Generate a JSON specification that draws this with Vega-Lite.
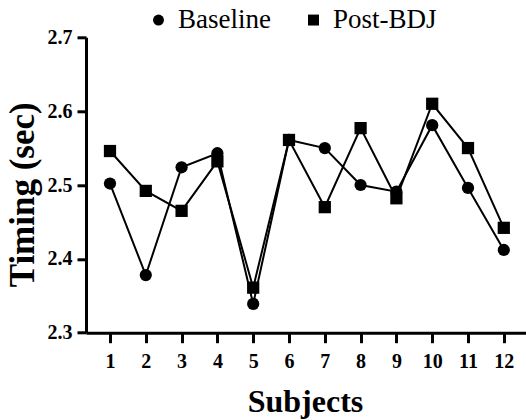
{
  "$schema": "https://vega.github.io/schema/vega-lite/v6.json",
  "autosize": {"type": "none"},
  "width": 440,
  "height": 295.4,
  "padding": {"left": 86, "top": 37.3, "right": 0, "bottom": 87.3},
  "background": "white",
  "config": {"view": {"stroke": null}, "font": "Liberation Serif"},
  "data": {
    "values": [
      {"subject": 1, "series": "Baseline", "timing": 2.502},
      {"subject": 2, "series": "Baseline", "timing": 2.378},
      {"subject": 3, "series": "Baseline", "timing": 2.524},
      {"subject": 4, "series": "Baseline", "timing": 2.543},
      {"subject": 5, "series": "Baseline", "timing": 2.339},
      {"subject": 6, "series": "Baseline", "timing": 2.561},
      {"subject": 7, "series": "Baseline", "timing": 2.550},
      {"subject": 8, "series": "Baseline", "timing": 2.500},
      {"subject": 9, "series": "Baseline", "timing": 2.491},
      {"subject": 10, "series": "Baseline", "timing": 2.581},
      {"subject": 11, "series": "Baseline", "timing": 2.496},
      {"subject": 12, "series": "Baseline", "timing": 2.412},
      {"subject": 1, "series": "Post-BDJ", "timing": 2.546},
      {"subject": 2, "series": "Post-BDJ", "timing": 2.492},
      {"subject": 3, "series": "Post-BDJ", "timing": 2.465},
      {"subject": 4, "series": "Post-BDJ", "timing": 2.532},
      {"subject": 5, "series": "Post-BDJ", "timing": 2.361},
      {"subject": 6, "series": "Post-BDJ", "timing": 2.561},
      {"subject": 7, "series": "Post-BDJ", "timing": 2.470},
      {"subject": 8, "series": "Post-BDJ", "timing": 2.577},
      {"subject": 9, "series": "Post-BDJ", "timing": 2.482},
      {"subject": 10, "series": "Post-BDJ", "timing": 2.610},
      {"subject": 11, "series": "Post-BDJ", "timing": 2.550},
      {"subject": 12, "series": "Post-BDJ", "timing": 2.442}
    ]
  },
  "encoding": {
    "x": {
      "field": "subject",
      "type": "quantitative",
      "scale": {"domain": [0.33, 12.62], "nice": false, "zero": false},
      "axis": {
        "values": [1, 2, 3, 4, 5, 6, 7, 8, 9, 10, 11, 12],
        "format": "d",
        "grid": false,
        "domainColor": "black",
        "domainWidth": 3,
        "tickColor": "black",
        "tickWidth": 3,
        "tickSize": 10,
        "labelFont": "Liberation Serif",
        "labelFontWeight": "bold",
        "labelFontSize": 20,
        "labelColor": "black",
        "labelPadding": 9,
        "labelFlush": false,
        "title": "Subjects",
        "titleFont": "Liberation Serif",
        "titleFontWeight": "bold",
        "titleFontSize": 32,
        "titleColor": "black",
        "titleX": 219,
        "titleY": 79,
        "titleBaseline": "alphabetic",
        "titleAlign": "center"
      }
    },
    "y": {
      "field": "timing",
      "type": "quantitative",
      "scale": {"domain": [2.3, 2.7], "nice": false, "zero": false},
      "axis": {
        "values": [2.3, 2.4, 2.5, 2.6, 2.7],
        "format": ".1f",
        "grid": false,
        "domainColor": "black",
        "domainWidth": 3,
        "tickColor": "black",
        "tickWidth": 3,
        "tickSize": 9,
        "labelFont": "Liberation Serif",
        "labelFontWeight": "bold",
        "labelFontSize": 20,
        "labelColor": "black",
        "labelPadding": 5,
        "labelFlush": false,
        "title": "Timing (sec)",
        "titleFont": "Liberation Serif",
        "titleFontWeight": "bold",
        "titleFontSize": 35,
        "titleColor": "black",
        "titleAngle": 270,
        "titleX": -53,
        "titleY": 157,
        "titleBaseline": "alphabetic",
        "titleAlign": "center"
      }
    }
  },
  "layer": [
    {
      "mark": {"type": "line", "color": "black", "strokeWidth": 2},
      "encoding": {"detail": {"field": "series", "type": "nominal"}}
    },
    {
      "mark": {"type": "point", "filled": true, "color": "black", "opacity": 1, "size": 150},
      "encoding": {
        "shape": {
          "field": "series",
          "type": "nominal",
          "scale": {"domain": ["Baseline", "Post-BDJ"], "range": ["circle", "square"]},
          "legend": {
            "title": null,
            "orient": "none",
            "direction": "horizontal",
            "legendX": 59,
            "legendY": -31,
            "padding": 0,
            "symbolSize": 120,
            "symbolFillColor": "black",
            "symbolStrokeColor": "black",
            "symbolOpacity": 1,
            "labelFont": "Liberation Serif",
            "labelFontSize": 27,
            "labelColor": "black",
            "labelOffset": 6,
            "columnPadding": 29,
            "labelLimit": 300
          }
        }
      }
    }
  ]
}
